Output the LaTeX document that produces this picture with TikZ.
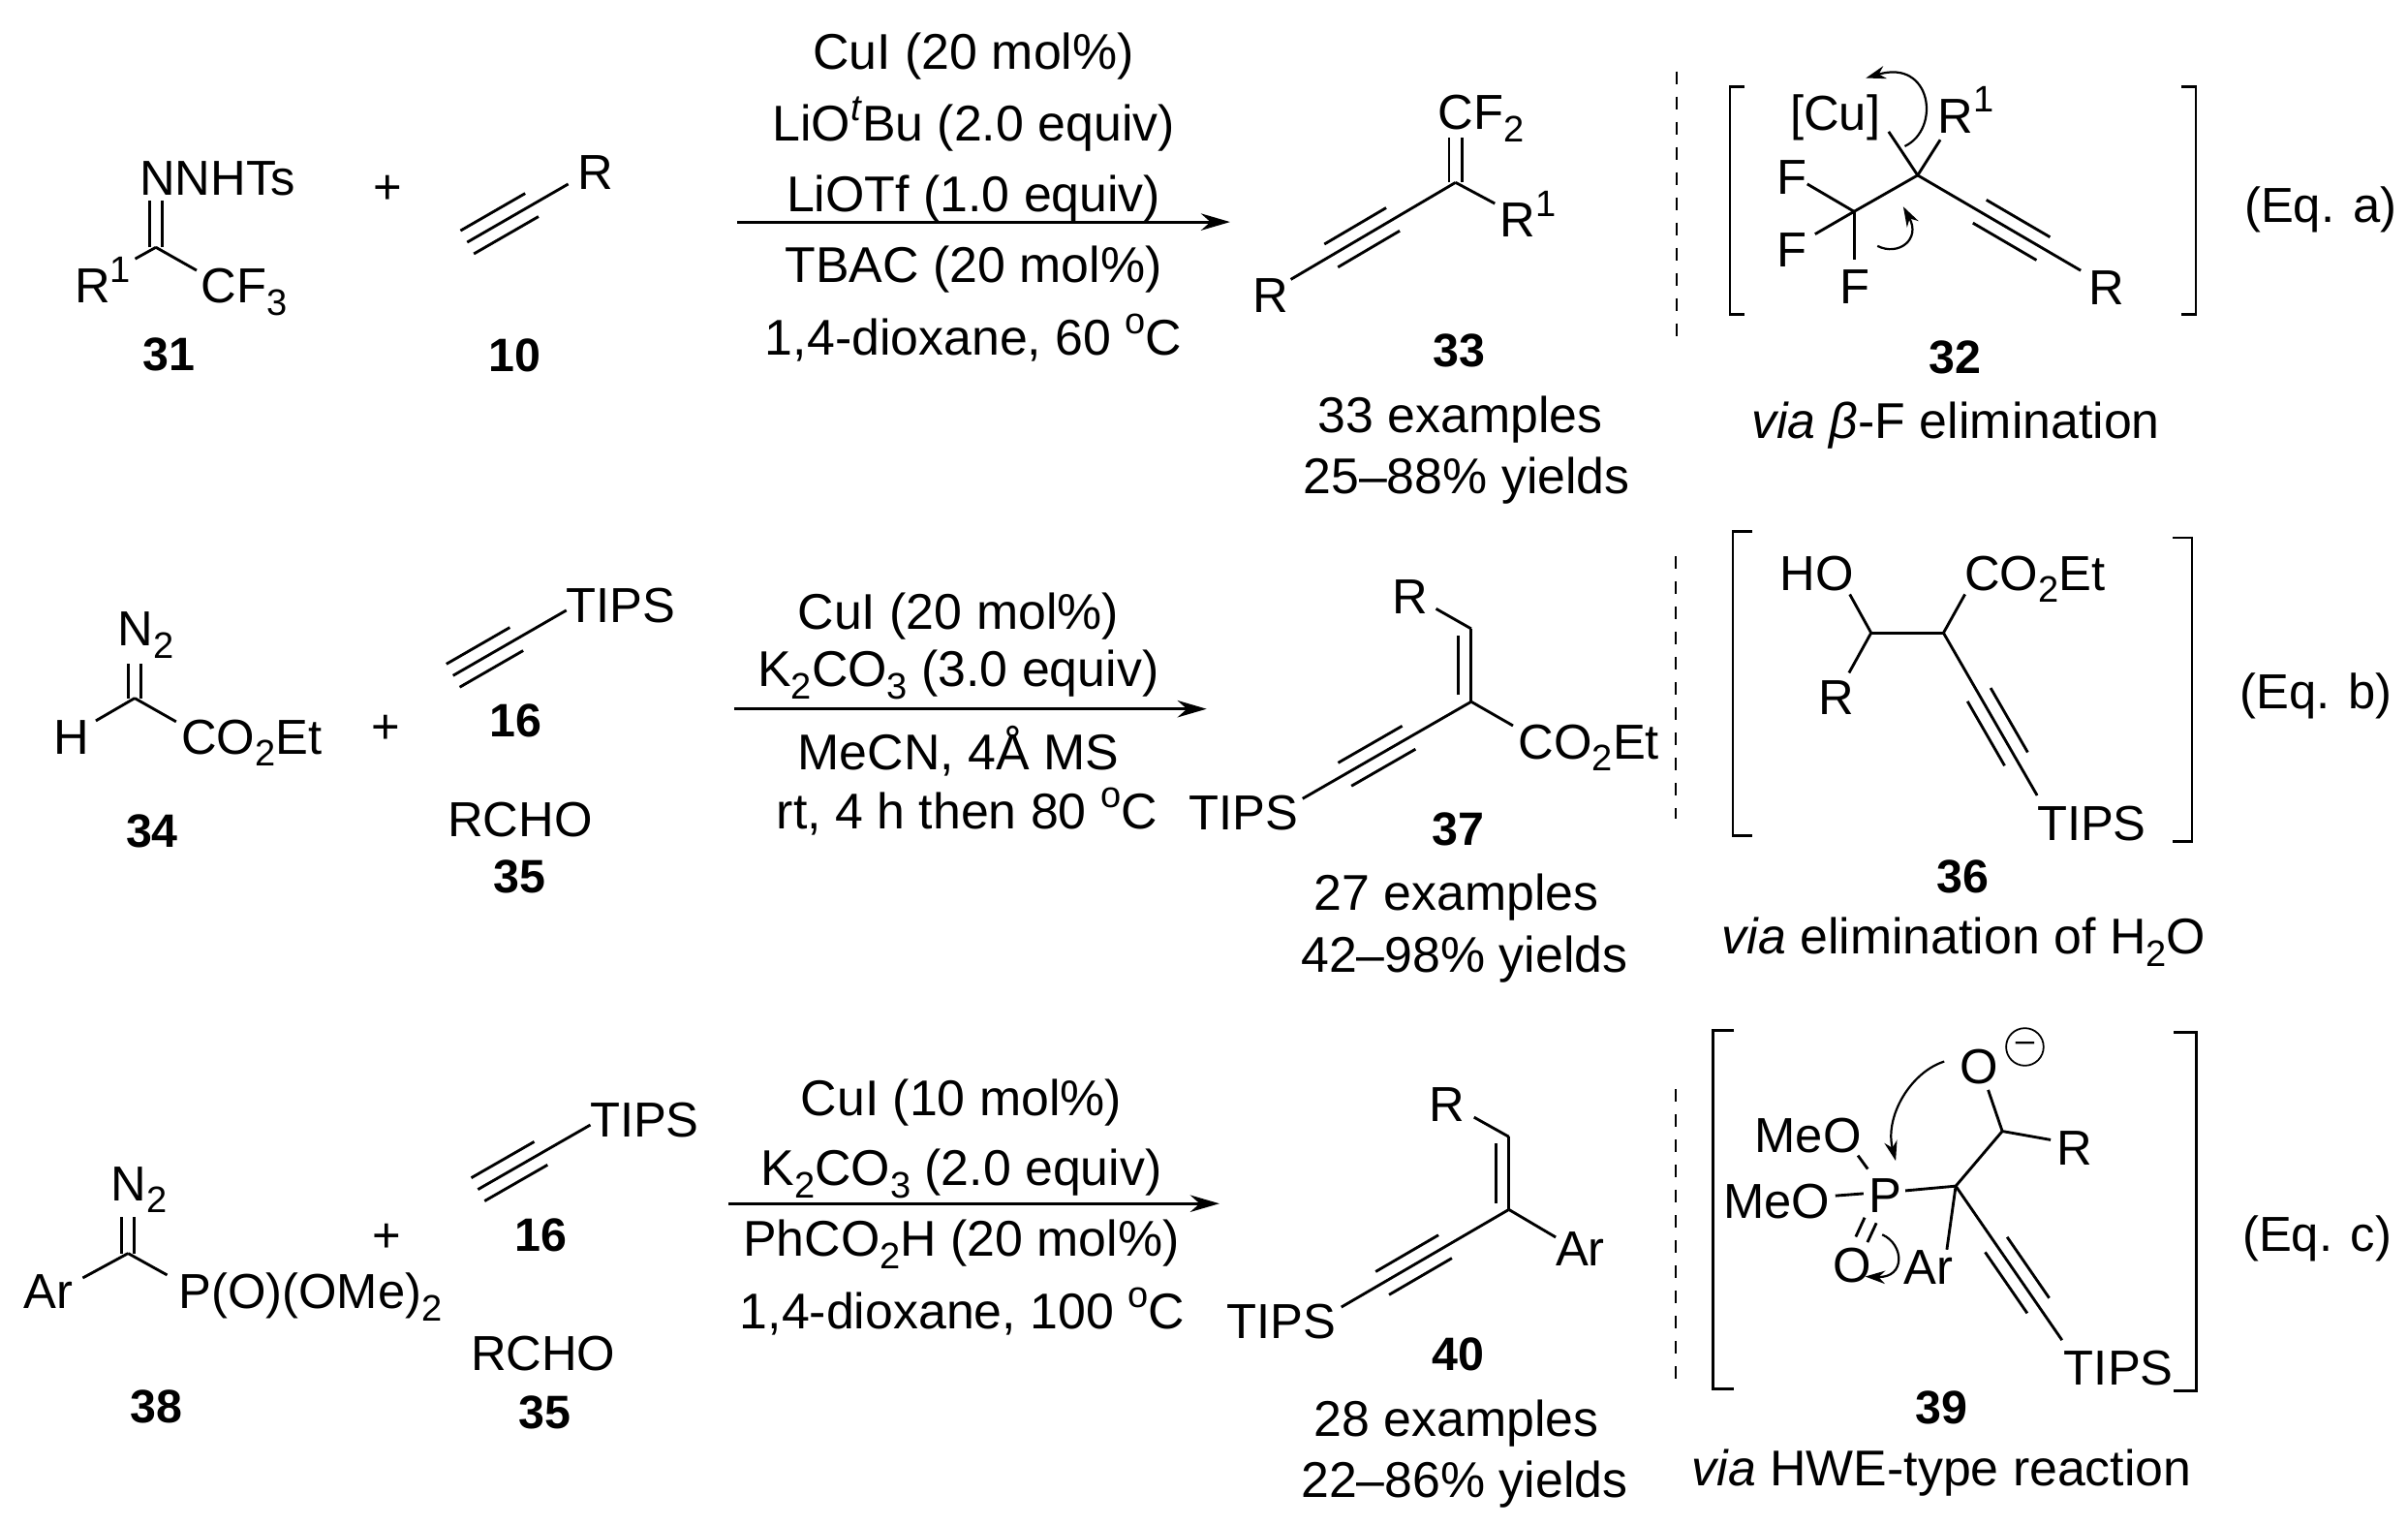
\documentclass[tikz,border=0pt]{standalone}
\usepackage{fontspec}
\setmainfont{Liberation Sans}
\usepackage{tikz}
\usetikzlibrary{calc,arrows.meta}

\newcommand{\chemsub}[1]{\raisebox{-.25em}{\fontsize{24}{24}\selectfont #1}}
\newcommand{\chemsup}[1]{\raisebox{.42em}{\fontsize{24}{24}\selectfont #1}}
\newcommand{\triplebond}[4]{%
  \draw[bond] (#1) -- (#2);
  \draw[bond] ($(#1)!#3!(#2)!8.7pt!90:(#2)$) -- ($(#1)!#4!(#2)!8.7pt!90:(#2)$);
  \draw[bond] ($(#1)!#3!(#2)!8.7pt!-90:(#2)$) -- ($(#1)!#4!(#2)!8.7pt!-90:(#2)$);
}
\newcommand{\twolines}[2]{%
  \draw[bond] ($(#1)!4.2pt!90:(#2)$) -- ($(#2)!4.2pt!-90:(#1)$);
  \draw[bond] ($(#1)!4.2pt!-90:(#2)$) -- ($(#2)!4.2pt!90:(#1)$);
}
\newcommand{\vinylbond}[2]{%
  \draw[bond] (#1) -- (#2);
  \draw[bond] ($(#1)!.09!(#2)!8.3pt!90:(#2)$) -- ($(#1)!.91!(#2)!8.3pt!90:(#2)$);
}

\begin{document}
\begin{tikzpicture}[x=1pt, y=-1pt,
  bond/.style = {line width=1.8pt},
  bracket/.style = {line width=1.7pt},
  divider/.style = {line width=1.5pt, dash pattern=on 8.2pt off 8.2pt},
  rxnarrow/.style = {line width=1.8pt, -{Stealth[length=19pt,width=11pt]}},
  curly/.style = {line width=1.4pt, -{Stealth[length=13pt,width=8.5pt]}},
  mol/.style = {anchor=base, inner sep=0pt, font=\fontsize{32}{38}\selectfont},
  cond/.style = {anchor=base, inner sep=0pt, font=\fontsize{32.7}{39}\selectfont},
  num/.style = {anchor=base, inner sep=0pt, font=\fontsize{30.5}{37}\selectfont\bfseries}]
  \useasboundingbox (0,0) rectangle (1568,993);

  % Eq. a
  \node[mol] (nnhts) at (141.7,127) {NNHTs};
  \node[mol] (r1a) at (67,197) {R\chemsup{1}};
  \node[mol] (cf3) at (159,197) {CF\chemsub{3}};
  \node[num] (n31) at (110,241) {31};
  \node[mol] (plusa) at (252.6,132.5) {+};
  \node[mol] (r10) at (387.5,123.6) {R};
  \node[num] (n10) at (335,242) {10};
  \coordinate (ca) at (101.5,161);
  \coordinate (nend) at (101.5,130.5);
  \coordinate (r1aend) at (88,168.5);
  \coordinate (cf3end) at (128,176);
  \twolines{ca}{nend}
  \draw[bond] (ca) -- (r1aend);
  \draw[bond] (ca) -- (cf3end);
  \coordinate (ya) at (304.2,157.7);
  \coordinate (yb) at (370,119.8);
  \triplebond{ya}{yb}{0}{.64}

  \node[cond] (a1) at (634,45) {CuI (20 mol\%)};
  \node[cond] (a2) at (634,92) {LiO\chemsup{\textit{t}}Bu (2.0 equiv)};
  \node[cond] (a3) at (634,138) {LiOTf (1.0 equiv)};
  \node[cond] (a4) at (634,184) {TBAC (20 mol\%)};
  \node[cond] (a5) at (634,231) {1,4-dioxane, 60 \chemsup{o}C};
  \coordinate (arra) at (480,144.5);
  \coordinate (arrb) at (801,144.5);
  \draw[rxnarrow] (arra) -- (arrb);

  \node[mol] (cf2) at (964.5,84.1) {CF\chemsub{2}};
  \node[mol] (r1b) at (995,154.5) {R\chemsup{1}};
  \node[mol] (r33) at (827.4,203.3) {R};
  \node[num] (n33) at (950,239) {33};
  \node[cond] (ex33) at (951,281.5) {33 examples};
  \node[cond] (yi33) at (955,321.5) {25--88\% yields};
  \coordinate (c33) at (947.8,118.8);
  \coordinate (c33top) at (947.8,89.4);
  \coordinate (r1bend) at (973.4,132.5);
  \coordinate (r33end) at (840.5,181.9);
  \twolines{c33}{c33top}
  \draw[bond] (c33) -- (r1bend);
  \triplebond{c33}{r33end}{.38}{.755}

  \draw[divider] (1091.7,46.5) -- (1091.7,219.6);
  \draw[bracket] (1135.9,56.3) -- (1126.4,56.3) -- (1126.4,204.5) -- (1135.9,204.5);
  \draw[bracket] (1420.7,56.3) -- (1429.9,56.3) -- (1429.9,204.5) -- (1420.7,204.5);
  \node[mol] (cu) at (1195,85.1) {[Cu]};
  \node[mol] (r1c) at (1280,86.6) {R\chemsup{1}};
  \node[mol] (f1) at (1167,126.5) {F};
  \node[mol] (f2) at (1167,173.8) {F};
  \node[mol] (f3) at (1208,197.6) {F};
  \node[mol] (r32) at (1371.6,198.2) {R};
  \coordinate (c32) at (1248.7,114.1);
  \coordinate (cf) at (1207.3,137.7);
  \coordinate (cuend) at (1229.8,85.7);
  \coordinate (r1cend) at (1263.4,91);
  \coordinate (f1end) at (1176.8,119.8);
  \coordinate (f2end) at (1181.9,152.4);
  \coordinate (f3end) at (1207.3,169.2);
  \coordinate (r32end) at (1354.9,176.1);
  \draw[bond] (c32) -- (cuend);
  \draw[bond] (c32) -- (r1cend);
  \draw[bond] (c32) -- (cf);
  \draw[bond] (cf) -- (f1end);
  \draw[bond] (cf) -- (f2end);
  \draw[bond] (cf) -- (f3end);
  \triplebond{c32}{r32end}{.38}{.77}
  \coordinate (cua) at (1240.3,95.2);
  \coordinate (cub) at (1215,50.8);
  \draw[curly] (cua) .. controls (1264,84) and (1258,38) .. (cub);
  \coordinate (cuc) at (1222.5,160.1);
  \coordinate (cud) at (1239.3,134.5);
  \draw[curly] (cuc) .. controls (1236,167) and (1251,156) .. (cud);
  \node[num] (n32) at (1273,243) {32};
  \node[cond] (via32) at (1273.5,285.5) {\textit{via β}-F elimination};
  \node[mol] (eqa) at (1511,145) {(Eq. a)};

  % Eq. b
  \node[mol] (n2b) at (95,420.4) {N\chemsub{2}};
  \node[mol] (hb) at (46.8,490.9) {H};
  \node[mol] (co2b) at (163.8,490.9) {CO\chemsub{2}Et};
  \node[num] (n34) at (99,551.8) {34};
  \node[mol] (plusb) at (251.3,484) {+};
  \node[mol] (tipsb) at (404,405.1) {TIPS};
  \node[num] (n16b) at (335.8,479.7) {16};
  \node[mol] (rchob) at (338.6,544.5) {RCHO};
  \node[num] (n35b) at (338.6,581.2) {35};
  \coordinate (cb) at (87.7,454.5);
  \coordinate (n2bend) at (87.7,432);
  \coordinate (hbend) at (62.4,469.2);
  \coordinate (co2bend) at (114.7,469.8);
  \twolines{cb}{n2bend}
  \draw[bond] (cb) -- (hbend);
  \draw[bond] (cb) -- (co2bend);
  \coordinate (yc) at (295,439.8);
  \coordinate (yd) at (368.8,397.3);
  \triplebond{yc}{yd}{0}{.56}

  \node[cond] (b1) at (624,409.5) {CuI (20 mol\%)};
  \node[cond] (b2) at (624,447) {K\chemsub{2}CO\chemsub{3} (3.0 equiv)};
  \node[cond] (b3) at (624,501.4) {MeCN, 4Å MS};
  \node[cond] (b4) at (629.7,539.3) {rt, 4 h then 80 \chemsup{o}C};
  \coordinate (arrc) at (478,461.5);
  \coordinate (arrd) at (785.7,461.5);
  \draw[rxnarrow] (arrc) -- (arrd);

  \node[mol] (r37) at (918.3,399.4) {R};
  \node[mol] (co2c) at (1034.6,494) {CO\chemsub{2}Et};
  \node[mol] (tipsc) at (809.5,540.3) {TIPS};
  \node[num] (n37) at (949.4,550.4) {37};
  \node[cond] (ex37) at (948.4,592.4) {27 examples};
  \node[cond] (yi37) at (953.6,632.8) {42--98\% yields};
  \coordinate (c37a) at (958,409.3);
  \coordinate (c37b) at (958,456.8);
  \coordinate (r37end) at (935.1,396.3);
  \coordinate (co2cend) at (985.2,472.4);
  \coordinate (tipscend) at (848.2,519.9);
  \draw[bond] (c37a) -- (r37end);
  \vinylbond{c37b}{c37a}
  \draw[bond] (c37b) -- (co2cend);
  \triplebond{c37b}{tipscend}{.37}{.75}

  \draw[divider] (1091,362.3) -- (1091,533);
  \draw[bracket] (1141,345.9) -- (1128.4,345.9) -- (1128.4,543.9) -- (1141,543.9);
  \draw[bracket] (1415,350) -- (1427.4,350) -- (1427.4,548) -- (1415,548);
  \node[mol] (hoa) at (1183,384.3) {HO};
  \node[mol] (co2d) at (1325,384.3) {CO\chemsub{2}Et};
  \node[mol] (r36) at (1195.5,465) {R};
  \node[mol] (tipsd) at (1362,547) {TIPS};
  \coordinate (c36a) at (1218.4,412);
  \coordinate (c36b) at (1265.5,412);
  \coordinate (hoend) at (1204.5,386.9);
  \coordinate (r36end) at (1204,438);
  \coordinate (co2dend) at (1279.5,386.9);
  \coordinate (tipsdend) at (1326.5,517.8);
  \draw[bond] (c36a) -- (c36b);
  \draw[bond] (c36a) -- (hoend);
  \draw[bond] (c36a) -- (r36end);
  \draw[bond] (c36b) -- (co2dend);
  \triplebond{c36b}{tipsdend}{.38}{.776}
  \node[num] (n36) at (1278,581.3) {36};
  \node[cond] (via36) at (1278.7,621.2) {\textit{via} elimination of H\chemsub{2}O};
  \node[mol] (eqb) at (1508,461.5) {(Eq. b)};

  % Eq. c
  \node[mol] (n2c) at (90.5,781.5) {N\chemsub{2}};
  \node[mol] (ar38) at (31.3,852) {Ar};
  \node[mol] (po) at (202,852) {P(O)(OMe)\chemsub{2}};
  \node[num] (n38) at (102,926.5) {38};
  \node[mol] (plusc) at (251.6,815) {+};
  \node[mol] (tipse) at (419.7,740) {TIPS};
  \node[num] (n16c) at (352,814.8) {16};
  \node[mol] (rchoc) at (353.7,892) {RCHO};
  \node[num] (n35c) at (354.6,930.3) {35};
  \coordinate (cc) at (83.4,815.9);
  \coordinate (n2cend) at (83.4,792.5);
  \coordinate (ar38end) at (53.9,831.9);
  \coordinate (poend) at (108.8,830);
  \twolines{cc}{n2cend}
  \draw[bond] (cc) -- (ar38end);
  \draw[bond] (cc) -- (poend);
  \coordinate (ye) at (311.2,774.3);
  \coordinate (yf) at (384.4,732.3);
  \triplebond{ye}{yf}{0}{.56}

  \node[cond] (c1) at (626,726) {CuI (10 mol\%)};
  \node[cond] (c2) at (626,772) {K\chemsub{2}CO\chemsub{3} (2.0 equiv)};
  \node[cond] (c3) at (626,818) {PhCO\chemsub{2}H (20 mol\%)};
  \node[cond] (c4) at (626.6,865) {1,4-dioxane, 100 \chemsup{o}C};
  \coordinate (arre) at (474.4,783.5);
  \coordinate (arrf) at (794,783.5);
  \draw[rxnarrow] (arre) -- (arrf);

  \node[mol] (r40) at (942.3,730) {R};
  \node[mol] (ar40) at (1029,824.2) {Ar};
  \node[mol] (tipsf) at (834.4,871.2) {TIPS};
  \node[num] (n40) at (949.4,892) {40};
  \node[cond] (ex40) at (948.4,935) {28 examples};
  \node[cond] (yi40) at (953.6,975) {22--86\% yields};
  \coordinate (c40a) at (982.5,740);
  \coordinate (c40b) at (982.5,787.4);
  \coordinate (r40end) at (959.8,727.3);
  \coordinate (ar40end) at (1013,805.4);
  \coordinate (tipsfend) at (873.4,850.9);
  \draw[bond] (c40a) -- (r40end);
  \vinylbond{c40b}{c40a}
  \draw[bond] (c40b) -- (ar40end);
  \triplebond{c40b}{tipsfend}{.38}{.755}

  \draw[divider] (1091,709) -- (1091,898.6);
  \draw[bracket] (1129.3,670.6) -- (1115.3,670.6) -- (1115.3,904) -- (1129.3,904);
  \draw[bracket] (1415.4,672.1) -- (1430.1,672.1) -- (1430.1,905.6) -- (1415.4,905.6);
  \node[mol] (oneg) at (1288.5,705.3) {O};
  \node[draw, circle, line width=1.1pt, inner sep=0pt, minimum size=24.4pt,
        font=\fontsize{22}{22}\selectfont] (minus) at (1318.5,681.5) {–};
  \node[mol] (r39) at (1351.2,758.5) {R};
  \node[mol] (p39) at (1227.5,789.4) {P};
  \node[mol] (meoa) at (1177.3,750.5) {MeO};
  \node[mol] (meob) at (1157,793) {MeO};
  \node[mol] (odb) at (1206,834.6) {O};
  \node[mol] (ar39) at (1255.8,836) {Ar};
  \node[mol] (tipsg) at (1379.6,901.4) {TIPS};
  \coordinate (c39a) at (1303.8,736.4);
  \coordinate (c39b) at (1273.5,772.1);
  \coordinate (onegend) at (1294.6,709.5);
  \coordinate (r39end) at (1335.3,742);
  \coordinate (pa) at (1240.7,775.1);
  \coordinate (pb) at (1216.2,761);
  \coordinate (pc) at (1209.8,752.2);
  \coordinate (pd) at (1213.4,777);
  \coordinate (pe) at (1195.1,778.4);
  \coordinate (pf) at (1218,794.4);
  \coordinate (pg) at (1212.2,806.9);
  \coordinate (ar39end) at (1267.7,813.5);
  \coordinate (tipsgend) at (1342.7,872.4);
  \draw[bond] (c39a) -- (onegend);
  \draw[bond] (c39a) -- (r39end);
  \draw[bond] (c39a) -- (c39b);
  \draw[bond] (c39b) -- (pa);
  \draw[bond] (pb) -- (pc);
  \draw[bond] (pd) -- (pe);
  \twolines{pf}{pg}
  \draw[bond] (c39b) -- (ar39end);
  \triplebond{c39b}{tipsgend}{.38}{.776}
  \coordinate (cue) at (1266,691);
  \coordinate (cuf) at (1234.4,755.7);
  \draw[curly] (cue) .. controls (1244,698) and (1227,727) .. (cuf);
  \coordinate (cug) at (1225.6,803.7);
  \coordinate (cuh) at (1214.5,831);
  \draw[curly] (cug) .. controls (1240,810) and (1241,832) .. (cuh);
  \node[num] (n39) at (1264,927) {39};
  \node[cond] (via39) at (1264.4,966.9) {\textit{via} HWE-type reaction};
  \node[mol] (eqc) at (1508.8,814.8) {(Eq. c)};
\end{tikzpicture}
\end{document}
